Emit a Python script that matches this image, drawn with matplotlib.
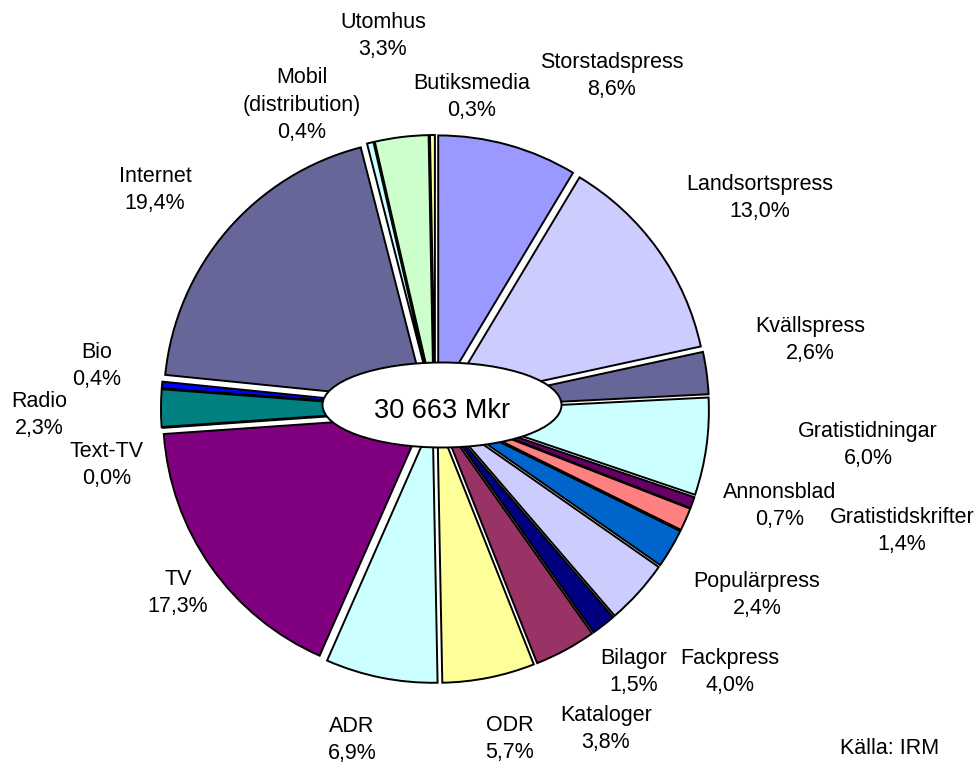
import matplotlib
matplotlib.use('Agg')
import matplotlib.pyplot as plt
from matplotlib.patches import Ellipse

plt.rcParams['font.family'] = ['Liberation Sans', 'DejaVu Sans']

# media categories, clockwise from 12 o'clock
media = ['Storstadspress', 'Landsortspress', 'Kvällspress', 'Gratistidningar',
         'Annonsblad', 'Gratistidskrifter', 'Populärpress', 'Fackpress',
         'Bilagor', 'Kataloger', 'ODR', 'ADR', 'TV', 'Text-TV', 'Radio',
         'Bio', 'Internet', 'Mobil\n(distribution)', 'Utomhus', 'Butiksmedia']
share = [8.6, 13.0, 2.6, 6.0, 0.7, 1.4, 2.4, 4.0, 1.5, 3.8, 5.7, 6.9,
         17.3, 0.0, 2.3, 0.4, 19.4, 0.4, 3.3, 0.3]
total = '30 663 Mkr'
source = 'Källa: IRM'

colors = ['#9999FF', '#CCCCFF', '#666699', '#CCFFFF', '#660066', '#FF8080',
          '#0066CC', '#CCCCFF', '#000080', '#993366', '#FFFF99', '#CCFFFF',
          '#800080', '#008080', '#008080', '#0000FF', '#666699', '#CCFFFF',
          '#CCFFCC', '#FFFF99']

# label centres in pixel coords (x right, y down)
label_xy = [(612, 76), (760, 198), (810, 340), (868, 445), (780, 506),
            (902, 531), (757, 595), (730, 672), (634, 672), (606, 729),
            (510, 739), (352, 740), (178, 593), (107, 465), (39, 415),
            (97, 366), (155, 190), (302, 105), (383, 36), (472, 97)]

W, H = 978, 765
fig = plt.figure(figsize=(W / 100, H / 100), dpi=100)
ax = fig.add_axes([0, 0, 1, 1])

# y axis is flipped below, so counterclockwise in data = clockwise on screen
# explode is in data units here (pixels)
ax.pie(share, colors=colors, center=(435, 409), radius=262,
       startangle=-90, counterclock=True, explode=[12] * len(share),
       wedgeprops=dict(edgecolor='black', linewidth=1.4))

ax.add_patch(Ellipse((442, 405), 239, 85, facecolor='white',
                     edgecolor='black', linewidth=1.4, zorder=5))
ax.text(442, 411, total, ha='center', va='center', fontsize=19.5, zorder=6)

for name, val, (x, y) in zip(media, share, label_xy):
    txt = name + '\n' + ('%.1f%%' % val).replace('.', ',')
    ax.text(x, y, txt, ha='center', va='center', fontsize=15.5, linespacing=1.4)

ax.text(890, 748, source, ha='center', va='center', fontsize=15.5)

ax.set_xlim(0, W)
ax.set_ylim(H, 0)
ax.set_aspect('auto')
ax.axis('off')

fig.savefig('out.png', dpi=100, facecolor='white')
